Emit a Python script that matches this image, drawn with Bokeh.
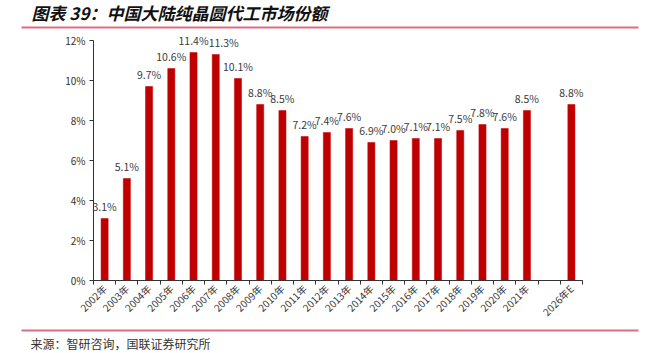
import math
from bokeh.plotting import figure
from bokeh.models import (Range1d, FixedTicker, ColumnDataSource, LabelSet,
                          PrintfTickFormatter, LinearAxis)
from bokeh.core.properties import value
from bokeh.embed import file_html
from bokeh.resources import INLINE

# ---- data ----
title_text = "图表 39：中国大陆纯晶圆代工市场份额"
source_text = "来源：智研咨询，国联证券研究所"
categories = ["2002年", "2003年", "2004年", "2005年", "2006年", "2007年", "2008年",
              "2009年", "2010年", "2011年", "2012年", "2013年", "2014年", "2015年",
              "2016年", "2017年", "2018年", "2019年", "2020年", "2021年", "", "2026年E"]
share = [3.1, 5.1, 9.7, 10.6, 11.4, 11.3, 10.1, 8.8, 8.5, 7.2, 7.4, 7.6, 6.9, 7.0,
         7.1, 7.1, 7.5, 7.8, 7.6, 8.5, None, 8.8]
y_ticks = [0, 2, 4, 6, 8, 10, 12]

FONT = "Noto Sans CJK SC"
W, H = 645, 353
LINE_COLOR = "#DC6E84"
AXIS_COLOR = "#333333"

n = len(categories)
y_max = y_ticks[-1]

# page layout of the chart area (pixels)
FL, FR, FT, FB = 93, 582, 40, 280
sx = (FR - FL) / n          # px per category slot
sy = (FB - FT) / y_max      # px per percent


def dx(px):
    return (px - FL) / sx


def dy(py):
    return (FB - py) / sy


# label nudges (pixels) to keep neighbouring labels apart, as in the original
nudge = {"2007年": 8}

xs, tops, labels, offs = [], [], [], []
for i, v in enumerate(share):
    if v is not None:
        xs.append(i + 0.5)
        tops.append(v)
        labels.append(f"{v:.1f}%")
        offs.append(nudge.get(categories[i], 0))
src = ColumnDataSource(dict(x=xs, top=tops, label=labels, off=offs))

p = figure(width=W, height=H, x_range=Range1d(dx(0), dx(W)),
           y_range=Range1d(dy(H), dy(0)), min_border=0,
           x_axis_location=None, y_axis_location=None,
           toolbar_location=None, output_backend="svg", outline_line_color=None)
p.grid.visible = False

p.vbar(x="x", top="top", width=0.32, source=src, fill_color="#C00000",
       line_color="#C00000", line_width=0.5)

p.add_layout(LabelSet(x="x", y="top", text="label", source=src, text_align="center",
                      text_baseline="bottom", y_offset=5, x_offset="off",
                      text_font=value(FONT), text_font_size="10.5px",
                      text_color="#3a3a3a"))

# x axis: labels at slot centres, ticks at slot boundaries (minor ticks)
xa = LinearAxis(fixed_location=0, bounds=(0, n))
xa.ticker = FixedTicker(ticks=[i + 0.5 for i in range(n)],
                        minor_ticks=list(range(n + 1)))
xa.major_label_overrides = {i + 0.5: c for i, c in enumerate(categories)}
xa.major_tick_out = 0
xa.major_tick_in = 0
xa.minor_tick_out = 4
xa.minor_tick_in = 0
xa.minor_tick_line_color = AXIS_COLOR
xa.axis_line_color = AXIS_COLOR
xa.major_label_orientation = math.pi / 4
xa.major_label_text_font = FONT
xa.major_label_text_font_size = "10px"
xa.major_label_text_color = "#333333"
xa.major_label_standoff = 2
p.add_layout(xa, "below")

ya = LinearAxis(fixed_location=0, bounds=(0, y_max))
ya.ticker = FixedTicker(ticks=y_ticks)
ya.formatter = PrintfTickFormatter(format="%d%%")
ya.major_tick_out = 4
ya.major_tick_in = 0
ya.minor_tick_line_color = None
ya.axis_line_color = AXIS_COLOR
ya.major_tick_line_color = AXIS_COLOR
ya.major_label_text_font = FONT
ya.major_label_text_font_size = "10px"
ya.major_label_text_color = "#333333"
ya.major_label_standoff = 4
p.add_layout(ya, "left")

# ---- header ----
p.text(x=[dx(31)], y=[dy(12)], text=[title_text], text_font=value(FONT),
       text_font_size="17px", text_font_style="bold italic", text_color="#111111",
       text_baseline="middle", text_align="left")
p.segment(x0=[dx(21)], y0=[dy(27)], x1=[dx(638)], y1=[dy(27)],
          line_color=LINE_COLOR, line_width=2)

# ---- footer ----
p.segment(x0=[dx(21)], y0=[dy(330)], x1=[dx(638)], y1=[dy(330)],
          line_color=LINE_COLOR, line_width=2)
p.text(x=[dx(30)], y=[dy(343)], text=[source_text], text_font=value(FONT),
       text_font_size="12px", text_color="#333333", text_baseline="middle",
       text_align="left")

open("out.html", "w").write(file_html(p, INLINE))
